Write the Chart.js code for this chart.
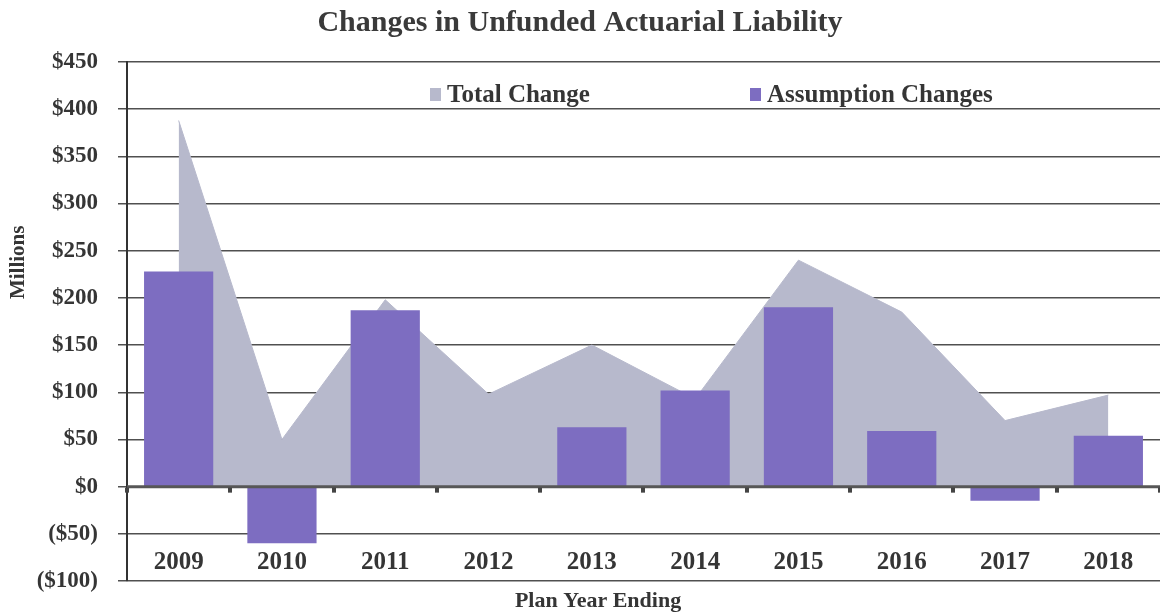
<!DOCTYPE html>
<html>
<head>
<meta charset="utf-8">
<title>Changes in Unfunded Actuarial Liability</title>
<script src="https://cdn.jsdelivr.net/npm/chart.js@4.4.1/dist/chart.umd.min.js"></script>
<style>
  html, body { margin: 0; padding: 0; background: #fff; }
  #wrap { position: relative; width: 1160px; height: 616px; }
  #legend { position: absolute; left: 0; top: 0; font: bold 25px 'Liberation Serif', 'Times New Roman', serif; color: #353535; }
  #legend .item { position: absolute; white-space: nowrap; line-height: 25px; }
  #legend .swatch { display: inline-block; width: 11px; height: 13px; margin-right: 6px; vertical-align: 1px; }
</style>
</head>
<body>
<div id="wrap">
  <canvas id="ualChart" width="1160" height="616"></canvas>
  <div id="legend"></div>
</div>
<script>
// Plan years and the two series (in $ millions)
const years = ['2009', '2010', '2011', '2012', '2013', '2014', '2015', '2016', '2017', '2018'];
const totalChange = [388, 50, 198, 98, 150, 93, 240, 185, 70, 97];
const assumptionChanges = [228, -60, 187, 0, 63, 102, 190, 59, -15, 54];

// Value axis range
const yMin = -100;
const yMax = 450;
const yStep = 50;

const serif = "'Liberation Serif', 'Times New Roman', serif";
const textColor = '#353535';
const areaColor = '#b7b9cc';
const barColor = '#7d6dc1';

// Format as $ with negatives in parentheses
function money(v) {
    return v < 0 ? '($' + (-v) + ')' : '$' + v;
}

// Draws the heavy zero line with its tick marks, and the two axis titles
const axisExtras = {
    id: 'axisExtras',
    afterDatasetsDraw(chart) {
        const {ctx, chartArea, scales: {x, y}} = chart;
        const y0 = y.getPixelForValue(0);
        const half = (x.getPixelForValue(1) - x.getPixelForValue(0)) / 2;
        ctx.save();
        ctx.strokeStyle = '#575757';
        ctx.lineWidth = 3;
        ctx.beginPath();
        ctx.moveTo(chartArea.left, y0);
        ctx.lineTo(chartArea.right, y0);
        ctx.stroke();
        ctx.fillStyle = '#444';
        for (let i = 0; i <= years.length; i++) {
            const px = x.getPixelForValue(0) - half + i * half * 2;
            ctx.fillRect(Math.round(px) - 2, y0 + 1, 4, 5);
        }
        ctx.restore();
    },
    afterDraw(chart) {
        const {ctx, chartArea} = chart;
        ctx.save();
        ctx.fillStyle = textColor;
        ctx.textAlign = 'center';
        ctx.textBaseline = 'middle';
        ctx.font = 'bold 22px ' + serif;
        ctx.fillText('Plan Year Ending', chartArea.left + chartArea.width * 0.456, 601);
        ctx.translate(19, chartArea.top + chartArea.height * 0.386);
        ctx.rotate(-Math.PI / 2);
        ctx.font = 'bold 21px ' + serif;
        ctx.fillText('Millions', 0, 0);
        ctx.restore();
    }
};

const chart = new Chart(document.getElementById('ualChart'), {
    data: {
        labels: years,
        datasets: [
            {
                type: 'line',
                label: 'Total Change',
                data: totalChange,
                fill: 'origin',
                backgroundColor: areaColor,
                borderColor: areaColor,
                borderWidth: 1,
                pointRadius: 0,
                tension: 0,
                order: 2
            },
            {
                type: 'bar',
                label: 'Assumption Changes',
                data: assumptionChanges,
                backgroundColor: barColor,
                barPercentage: 0.67,
                categoryPercentage: 1,
                order: 1
            }
        ]
    },
    options: {
        responsive: false,
        devicePixelRatio: 1,
        animation: false,
        layout: { padding: 0 },
        scales: {
            x: {
                offset: true,
                grid: { display: false },
                border: { display: false },
                ticks: {
                    color: textColor,
                    font: { family: serif, size: 25, weight: 'bold' },
                    // mirrored so the year labels sit just above the bottom line
                    mirror: true,
                    padding: 3,
                    maxRotation: 0
                },
                afterFit: (scale) => { scale.height = 35; }
            },
            y: {
                min: yMin,
                max: yMax,
                grid: {
                    color: '#505050',
                    lineWidth: 1.5,
                    tickLength: 9
                },
                border: { display: true, color: '#333', width: 2 },
                ticks: {
                    stepSize: yStep,
                    color: textColor,
                    font: { family: serif, size: 23, weight: 'bold' },
                    padding: 20,
                    callback: (v) => money(v)
                },
                afterFit: (scale) => { scale.width = 127; }
            }
        },
        plugins: {
            title: {
                display: true,
                text: 'Changes in Unfunded Actuarial Liability',
                color: '#3a3a3a',
                font: { family: serif, size: 30, weight: 'bold' },
                padding: { top: 5, bottom: 21 }
            },
            legend: { display: false },
            tooltip: { enabled: false }
        }
    },
    plugins: [axisExtras]
});

// Legend built from the datasets, laid over the top of the plot
const legendEl = document.getElementById('legend');
const legendLeft = [430, 750];
chart.data.datasets.forEach((ds, i) => {
    const item = document.createElement('span');
    item.className = 'item';
    item.style.left = legendLeft[i] + 'px';
    item.style.top = '81px';
    const swatch = document.createElement('span');
    swatch.className = 'swatch';
    swatch.style.background = ds.backgroundColor;
    item.appendChild(swatch);
    item.appendChild(document.createTextNode(ds.label));
    legendEl.appendChild(item);
});
</script>
</body>
</html>
